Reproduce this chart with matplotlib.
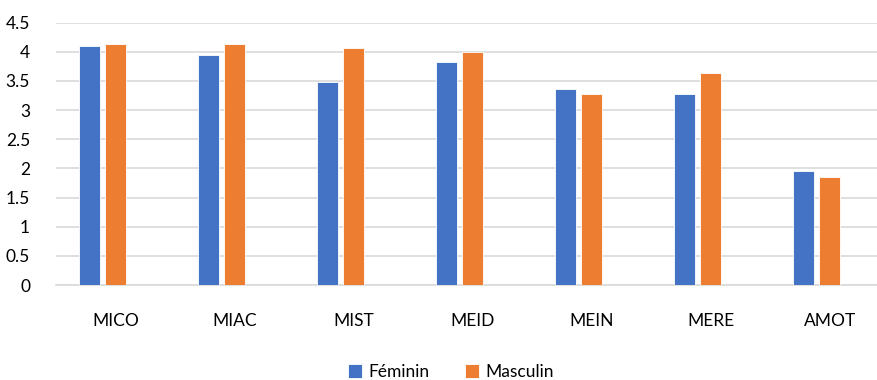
import matplotlib.pyplot as plt
import numpy as np

categories = ['MICO', 'MIAC', 'MIST', 'MEID', 'MEIN', 'MERE', 'AMOT']
feminin = [4.10, 3.95, 3.49, 3.83, 3.36, 3.27, 1.96]
masculin = [4.14, 4.14, 4.07, 4.00, 3.27, 3.64, 1.86]

plt.rcParams['font.family'] = ['Lato', 'DejaVu Sans']

fig = plt.figure(figsize=(8.77, 3.8), dpi=100)
# axes spans past the right edge (cropped like the original)
ax = fig.add_axes([56.5 / 877, 1 - 285 / 380, 833 / 877, (285 - 22.7) / 380])

x = np.arange(len(categories))
w = 21 / 119
ax.bar(x - 26.5 / 119, feminin, width=w, color='#4472C4', edgecolor='white', linewidth=0.6, label='Féminin', zorder=3)
ax.bar(x, masculin, width=w, color='#ED7D31', edgecolor='white', linewidth=0.6, label='Masculin', zorder=3)

ax.set_xlim(-0.5, len(categories) - 0.5)
ax.set_ylim(0, 4.5)
ax.set_yticks(np.arange(0, 4.51, 0.5))
ax.set_yticklabels(['0', '0.5', '1', '1.5', '2', '2.5', '3', '3.5', '4', '4.5'])
ax.set_xticks(x)
ax.set_xticklabels(categories)
ax.grid(axis='y', color='#d9d9d9', linewidth=1.2, zorder=0)
ax.tick_params(axis='both', length=0, labelsize=12.5, colors='#000000')
ax.tick_params(axis='x', pad=20)
ax.tick_params(axis='y', pad=19)
for s in ['top', 'right', 'left']:
    ax.spines[s].set_visible(False)
ax.spines['bottom'].set_color('#d9d9d9')
ax.spines['bottom'].set_linewidth(1.2)

fig.legend(loc='center', bbox_to_anchor=(451 / 877, 1 - 372 / 380), ncol=2, frameon=False,
           fontsize=12.5, handlelength=0.8, handleheight=0.8, handletextpad=0.4, columnspacing=2.0)

fig.savefig('out.png', dpi=100)
